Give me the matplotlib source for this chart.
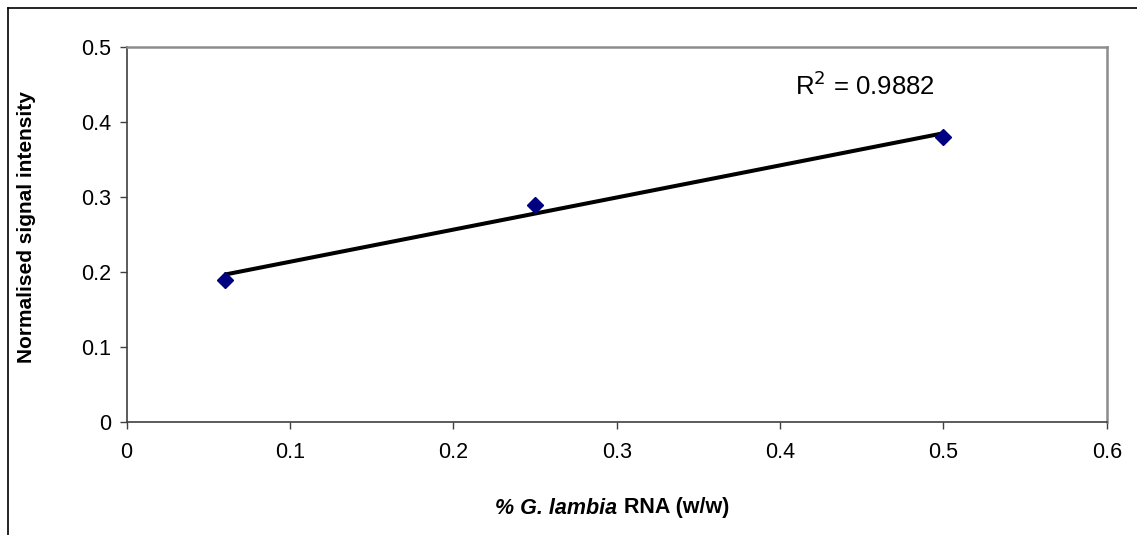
import numpy as np
import matplotlib
matplotlib.use("Agg")
import matplotlib.pyplot as plt
from matplotlib.lines import Line2D
from matplotlib.offsetbox import TextArea, HPacker, AnchoredOffsetbox

plt.rcParams['font.family'] = ['Liberation Sans', 'DejaVu Sans']

x_vals = [0.06, 0.25, 0.5]
y_vals = [0.19, 0.29, 0.38]
x_ticks = [0, 0.1, 0.2, 0.3, 0.4, 0.5, 0.6]
y_ticks = [0, 0.1, 0.2, 0.3, 0.4, 0.5]
r2_text = r"R$^2$ = 0.9882"

fig = plt.figure(figsize=(11.37, 5.35), dpi=100)
ax = fig.add_axes([0.1114, 0.2107, 0.862, 0.7014])

slope, intercept = np.polyfit(x_vals, y_vals, 1)
xs = np.array([min(x_vals), max(x_vals)])
ax.plot(xs, slope * xs + intercept, color='black', lw=2.9, zorder=3, solid_capstyle='butt')
ax.plot(x_vals, y_vals, linestyle='none', marker='D', ms=8.5, color='#000080', zorder=4)

ax.set_xlim(0, 0.6)
ax.set_ylim(0, 0.5)
ax.set_xticks(x_ticks)
ax.set_yticks(y_ticks)
ax.set_xticklabels([f"{t:g}" for t in x_ticks])
ax.set_yticklabels([f"{t:g}" for t in y_ticks])
ax.tick_params(axis='both', labelsize=15.5, length=5, width=1, color='#404040', direction='out')
ax.tick_params(axis='x', pad=9)
ax.tick_params(axis='y', pad=6)

for s in ['left', 'bottom']:
    ax.spines[s].set_color('#404040')
    ax.spines[s].set_linewidth(1.2)
for s in ['top', 'right']:
    ax.spines[s].set_color('#8c8c8c')
    ax.spines[s].set_linewidth(1.8)

ax.set_ylabel("Normalised signal intensity", fontsize=15, fontweight='bold')
ax.yaxis.set_label_coords(-0.093, 0.521)

ax.text(0.409, 0.448, r2_text, fontsize=18.5, ha='left', va='center')

t1 = TextArea("% G. lambia", textprops=dict(fontsize=15.5, fontweight='bold', fontstyle='italic'))
t2 = TextArea("RNA (w/w)", textprops=dict(fontsize=15.5, fontweight='bold'))
box = HPacker(children=[t1, t2], align='baseline', pad=0, sep=5)
anch = AnchoredOffsetbox(loc='center', child=box, frameon=False,
                         bbox_to_anchor=(612 / 1137, 1 - 508 / 535),
                         bbox_transform=fig.transFigure, pad=0, borderpad=0)
fig.add_artist(anch)

fig.add_artist(Line2D([8 / 1137, 8 / 1137], [0, 1 - 8 / 535], color='black', lw=1.2, transform=fig.transFigure))
fig.add_artist(Line2D([8 / 1137, 1], [1 - 8 / 535, 1 - 8 / 535], color='black', lw=1.2, transform=fig.transFigure))

fig.savefig("out.png", dpi=100)
